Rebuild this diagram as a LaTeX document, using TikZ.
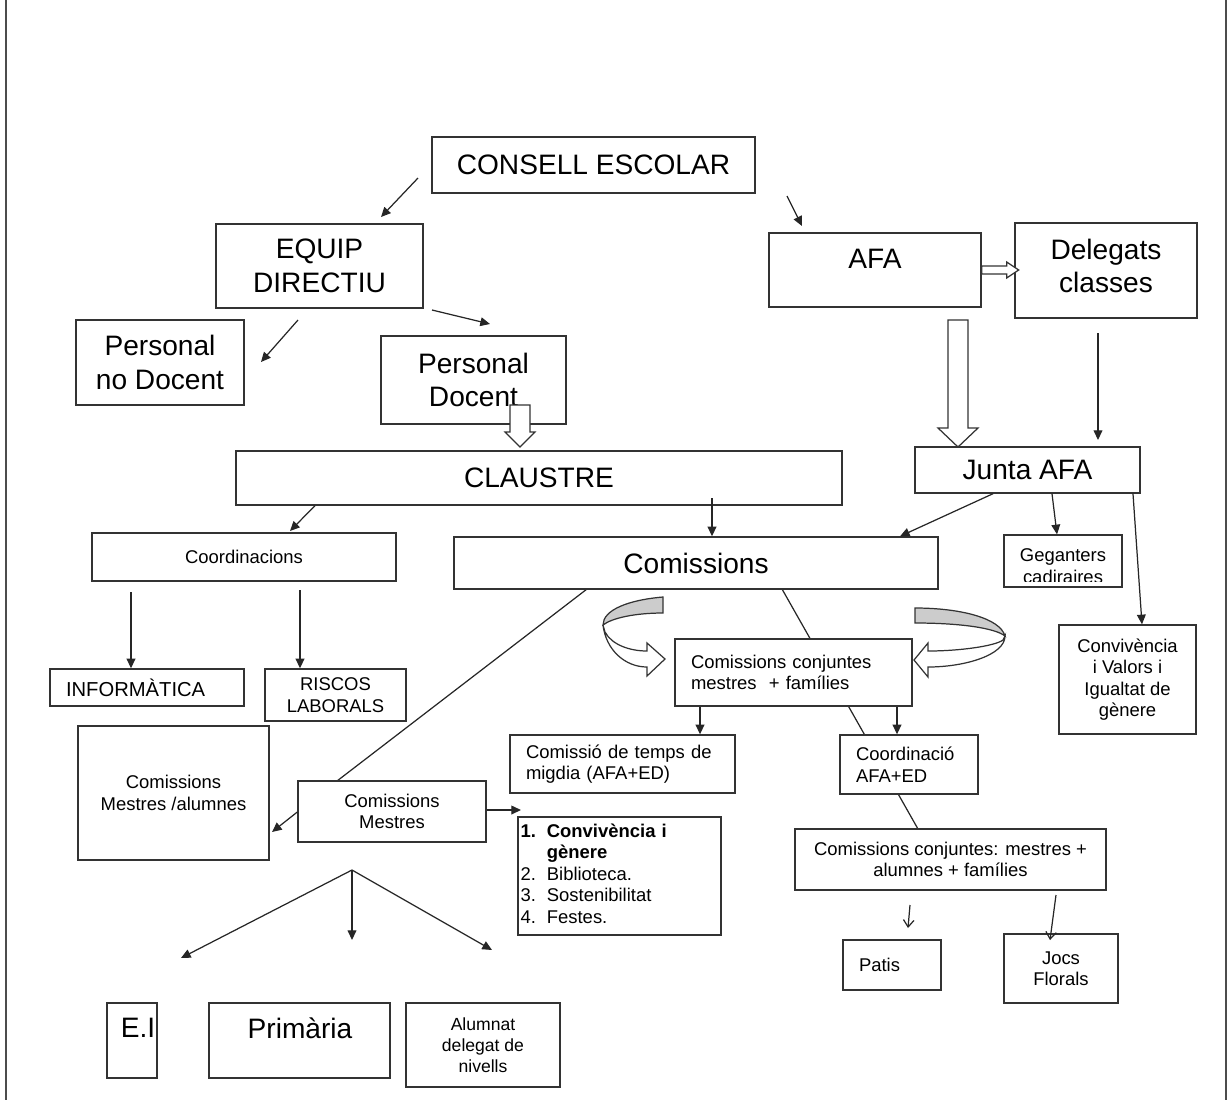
\documentclass[tikz,border=0pt]{standalone}
\usepackage{fontspec}
\setmainfont{Liberation Sans}
\usetikzlibrary{arrows.meta}
\tikzset{
  box/.style={draw=black!80, line width=0.8pt, fill=white, inner sep=0pt, align=center},
  big/.style={font=\fontsize{16}{19}\selectfont},
  small/.style={font=\fontsize{10.5}{12.2}\selectfont},
  lbox/.style={box, align=left, inner xsep=0.32cm},
  conn/.style={draw=black!85, line width=0.7pt},
  arr/.style={conn, -{Triangle[length=5.5pt,width=5pt]}},
  barb/.style={conn, -{Straight Barb[length=4pt,width=6pt]}},
  hollow/.style={draw=black!80, line width=0.7pt, fill=white},
  ribbon/.style={draw=black!80, line width=0.7pt, fill=black!20},
}
\begin{document}
\begin{tikzpicture}[x=0.02cm, y=-0.02cm]
\useasboundingbox (0,0) rectangle (1228,1100);
\draw[black!70, line width=0.6pt] (6,0) -- (6,1100);
\draw[black!70, line width=0.6pt] (1226,0) -- (1226,1100);

% lines that run behind the boxes
\coordinate (l1a) at (587,589);
\coordinate (l1b) at (337,781);
\coordinate (l2a) at (782,589);
\coordinate (l2b) at (918,829);
\draw[conn] (l1a) -- (l1b);
\draw[conn] (l2a) -- (l2b);

% boxes
\node[box, big, minimum width=6.46cm, minimum height=1.12cm] (ce) at (593.5,165) {CONSELL ESCOLAR};
\node[box, big, minimum width=4.14cm, minimum height=1.68cm] (ed) at (319.5,266) {EQUIP\\DIRECTIU};
\node[box, big, minimum width=3.36cm, minimum height=1.7cm] (pnd) at (160,362.5) {Personal\\no Docent};
\node[box, big, minimum width=3.7cm, minimum height=1.76cm] (pd) at (473.5,380) {Personal\\Docent};
\node[box, minimum width=4.24cm, minimum height=1.48cm] (afa) at (875,270) {};
\node[big] (afat) at (875,259) {AFA};
\node[box, minimum width=3.64cm, minimum height=1.9cm] (dc) at (1106,270.5) {};
\node[big, align=center] (dct) at (1106,266) {Delegats\\classes};
\node[box, big, minimum width=12.12cm, minimum height=1.08cm] (cl) at (539,478) {CLAUSTRE};
\node[box, big, minimum width=4.5cm, minimum height=0.92cm] (ja) at (1027.5,470) {Junta AFA};
\node[box, small, minimum width=6.08cm, minimum height=0.96cm] (co) at (244,557) {Coordinacions};
\node[box, big, minimum width=9.68cm, minimum height=1.04cm] (cm) at (696,563) {Comissions};
\node[box, minimum width=2.36cm, minimum height=1.04cm] (gc) at (1063,561) {};
\begin{scope}
\clip ([yshift=3.5pt]gc.south west) rectangle (gc.north east);
\node[small, align=center] (gct) at (1063,566) {Geganters\\cadiraires};
\end{scope}
\node[box, small, minimum width=2.74cm, minimum height=2.18cm] (cv) at (1127.5,679.5) {Convivència\\i Valors i\\Igualtat de\\gènere};
\node[lbox, small, text width=4.1cm, minimum height=1.34cm] (cc) at (793.5,672.5) {Comissions conjuntes\\mestres \ + famílies};
\node[lbox, small, font=\fontsize{11.5}{13}\selectfont, text width=3.24cm, minimum height=0.74cm] (inf) at (147,687.5) {INFORMÀTICA};
\node[box, small, minimum width=2.82cm, minimum height=1.04cm] (rl) at (335.5,695) {RISCOS\\LABORALS};
\node[box, small, minimum width=3.82cm, minimum height=2.68cm] (cma) at (173.5,793) {Comissions\\Mestres /alumnes};
\node[lbox, small, text width=3.86cm, minimum height=1.16cm] (ctm) at (622.5,764) {Comissió de temps de\\migdia (AFA+ED)};
\node[lbox, small, text width=2.12cm, minimum height=1.18cm] (caf) at (909,764.5) {Coordinació\\AFA+ED};
\node[box, small, minimum width=3.76cm, minimum height=1.22cm] (cme) at (392,811.5) {Comissions\\Mestres};
\node[lbox, small, inner xsep=0.05cm, text width=3.96cm, minimum height=2.36cm] (ll) at (619.5,876) {%
\begin{tabular}{@{}p{15pt}@{}l@{}}
\textbf{1.} & \textbf{Convivència i}\\
 & \textbf{gènere}\\
2. & Biblioteca.\\
3. & Sostenibilitat\\
4. & Festes.
\end{tabular}};
\node[box, small, minimum width=6.22cm, minimum height=1.22cm] (cca) at (950.5,859.5) {Comissions conjuntes: mestres +\\alumnes + famílies};
\node[lbox, small, text width=1.32cm, minimum height=1.0cm] (pa) at (892,965) {Patis};
\node[box, small, minimum width=2.28cm, minimum height=1.38cm] (jf) at (1061,968.5) {Jocs\\Florals};
\node[box, minimum width=1.0cm, minimum height=1.5cm] (ei) at (132,1040.5) {};
\node[big] (eit) at (138,1028) {E.I};
\node[box, minimum width=3.62cm, minimum height=1.5cm] (pr) at (299.5,1040.5) {};
\node[big] (prt) at (300,1028) {Primària};
\node[box, small, font=\fontsize{10}{11.8}\selectfont, minimum width=3.08cm, minimum height=1.68cm] (al) at (483,1045) {Alumnat\\delegat de\\nivells};

% free arrows
\coordinate (a1) at (418,178);
\coordinate (b1) at (381,217);
\coordinate (a2) at (787,196);
\coordinate (b2) at (802,226);
\coordinate (a3) at (298,320);
\coordinate (b3) at (261,362);
\coordinate (a4) at (432,310);
\coordinate (b4) at (490,324);
\draw[arr] (a1) -- (b1);
\draw[arr] (a2) -- (b2);
\draw[arr] (a3) -- (b3);
\draw[arr] (a4) -- (b4);

% hollow arrows
\coordinate (h1) at (520,405);
\coordinate (h2) at (958,320);
\draw[hollow] (h1) ++(-10,0) -- ++(20,0) -- ++(0,27) -- ++(5,0) -- ++(-15,15) -- ++(-15,-15) -- ++(5,0) -- cycle;
\draw[hollow] (h2) ++(-10,0) -- ++(20,0) -- ++(0,108) -- ++(10,0) -- ++(-20,19) -- ++(-20,-19) -- ++(10,0) -- cycle;
\draw[hollow] (afa.east) ++(0,-4) -- ++(25,0) -- ++(0,-4) -- ++(12,8) -- ++(-12,8) -- ++(0,-4) -- ++(-25,0) -- cycle;

% curved arrows round the joint commissions
\draw[ribbon] (663,597) .. controls (628,600) and (603,610) .. (603,625) .. controls (612,618) and (635,613) .. (663,613) -- cycle;
\draw[hollow] (603,625) .. controls (606,650) and (625,667) .. (647,667) -- (647,676) -- (665,659) -- (647,643) -- (647,651) .. controls (630,651) and (612,645) .. (605,632) -- cycle;
\draw[ribbon] (915,608) .. controls (960,608) and (1000,618) .. (1005,636) .. controls (995,628) and (960,623) .. (915,623) -- cycle;
\draw[hollow] (1005,636) .. controls (1005,655) and (965,667) .. (928,667) -- (928,677) -- (914,660) -- (928,643) -- (928,651) .. controls (960,651) and (995,646) .. (1003,640) -- cycle;

% connectors
\coordinate (d1) at (1098,333);
\coordinate (d2) at (1098,440);
\draw[arr] (d1) -- (d2);
\coordinate (k1) at (290,531);
\draw[arr] (cl.south -| 315,0) -- (k1);
\coordinate (k2) at (712,498);
\draw[arr] (k2) -- (cm.north -| k2);
\draw[arr] (ja.south -| 993,0) -- (cm.north -| 900,0);
\draw[arr] (ja.south -| 1052,0) -- (gc.north -| 1057,0);
\draw[arr] (ja.south -| 1133,0) -- (cv.north -| 1142,0);
\coordinate (k3) at (131,592);
\coordinate (k4) at (300,590);
\draw[arr] (k3) -- (inf.north -| k3);
\draw[arr] (k4) -- (rl.north -| k4);
\draw[arr] (cc.south -| 700,0) -- (ctm.north -| 700,0);
\draw[arr] (cc.south -| 897,0) -- (caf.north -| 897,0);
\coordinate (k5) at (272,832);
\draw[arr] (cme.west |- 0,812) -- (k5);
\coordinate (k6) at (521,810);
\draw[arr] (cme.east |- k6) -- (k6);
\coordinate (f0) at (352,870);
\coordinate (f1) at (181,958);
\coordinate (f2) at (352,940);
\coordinate (f3) at (492,950);
\draw[arr] (f0) -- (f1);
\draw[arr] (f0) -- (f2);
\draw[arr] (f0) -- (f3);
\coordinate (p1) at (910,905);
\coordinate (p2) at (908,928);
\draw[barb] (p1) -- (p2);
\coordinate (p3) at (1056,895);
\coordinate (p4) at (1050,940);
\draw[barb] (p3) -- (p4);
\end{tikzpicture}
\end{document}
